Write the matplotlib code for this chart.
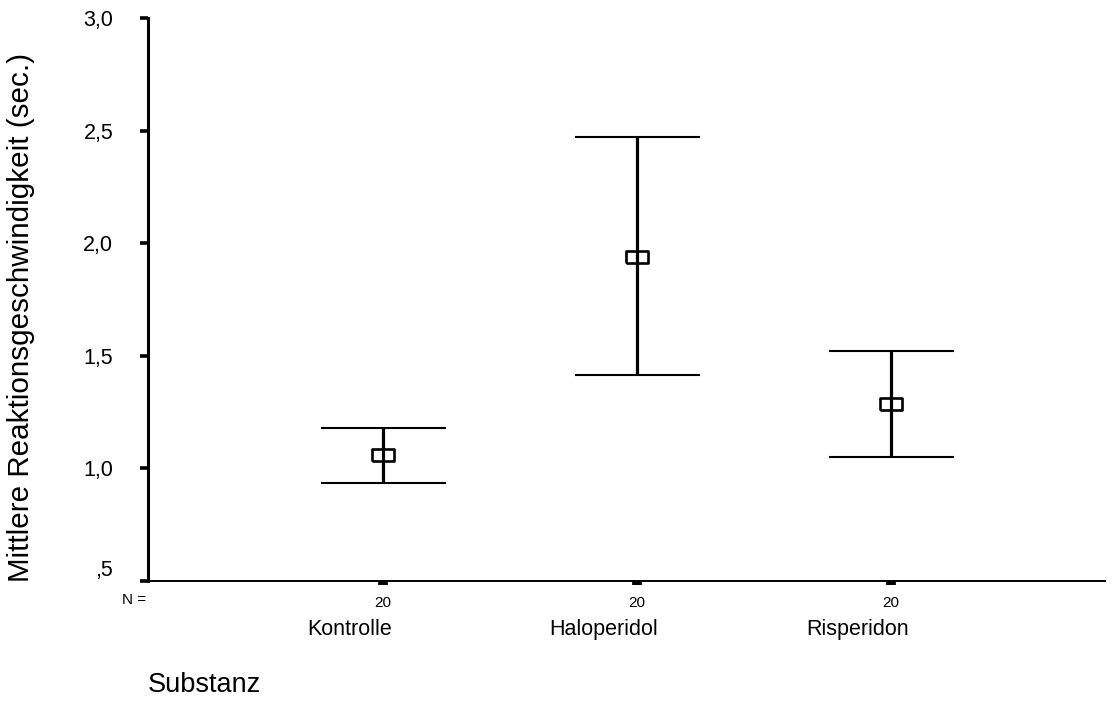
import matplotlib
matplotlib.use("Agg")
import matplotlib.pyplot as plt
from matplotlib.transforms import blended_transform_factory

plt.rcParams['font.family'] = ['Liberation Sans', 'DejaVu Sans']

# data
groups = ['Kontrolle', 'Haloperidol', 'Risperidon']
n_counts = [20, 20, 20]
means = [1.06, 1.94, 1.285]
upper = [1.18, 2.47, 1.52]
lower = [0.935, 1.415, 1.05]
yticks = [0.5, 1.0, 1.5, 2.0, 2.5, 3.0]
ytick_labels = [',5', '1,0', '1,5', '2,0', '2,5', '3,0']

xpos = list(range(1, len(groups) + 1))
err_lo = [m - l for m, l in zip(means, lower)]
err_hi = [u - m for m, u in zip(means, upper)]

fig = plt.figure(figsize=(11.2, 7.13), dpi=100)
ax = fig.add_axes([148 / 1120, 132 / 713, 957 / 1120, 563 / 713])

# error bars (vertical line + caps)
ax.errorbar(xpos, means, yerr=[err_lo, err_hi], fmt='none', ecolor='black',
            elinewidth=2.3, capsize=45, capthick=1.5, zorder=2)
# hollow rectangle for the mean
rect = [(-1, -0.57), (1, -0.57), (1, 0.57), (-1, 0.57), (-1, -0.57)]
ax.plot(xpos, means, linestyle='none', marker=rect, markersize=16,
        markerfacecolor='none', markeredgecolor='black', markeredgewidth=1.9, zorder=3)

ax.set_xlim(0.0746, 3.843)
ax.set_ylim(0.5, 3.0)

for s in ['top', 'right']:
    ax.spines[s].set_visible(False)
ax.spines['left'].set_linewidth(2.2)
ax.spines['bottom'].set_linewidth(1.4)

ax.set_yticks(yticks)
ax.set_yticklabels(ytick_labels)
ax.tick_params(axis='y', direction='out', length=6, width=2.6, pad=19, labelsize=15.5)
for lab in ax.get_yticklabels():
    if lab.get_text() == ',5':
        lab.set_va('bottom')

ax.set_xticks(xpos)
ax.set_xticklabels([str(n) for n in n_counts])
ax.tick_params(axis='x', direction='out', length=3, width=7, pad=8, labelsize=11)

# group names sit a bit left of the tick positions
trans = blended_transform_factory(ax.transData, ax.transAxes)
for x, g in zip(xpos, groups):
    ax.annotate(g, xy=(x, 0), xycoords=trans, xytext=(-24, -35), textcoords='offset points',
                ha='center', va='center', fontsize=15.5)

ax.annotate('N =', xy=(0, 0), xycoords='axes fraction', xytext=(-1, -14),
            textcoords='offset points', ha='right', va='center', fontsize=11)
ax.annotate('Substanz', xy=(0, 0), xycoords='axes fraction', xytext=(0, -75),
            textcoords='offset points', ha='left', va='center', fontsize=19.5)

fig.text(21 / 1120, 1 - 317 / 713, 'Mittlere Reaktionsgeschwindigkeit (sec.)',
         rotation=90, ha='center', va='center', fontsize=21.3)

fig.savefig('out.png', dpi=100)
